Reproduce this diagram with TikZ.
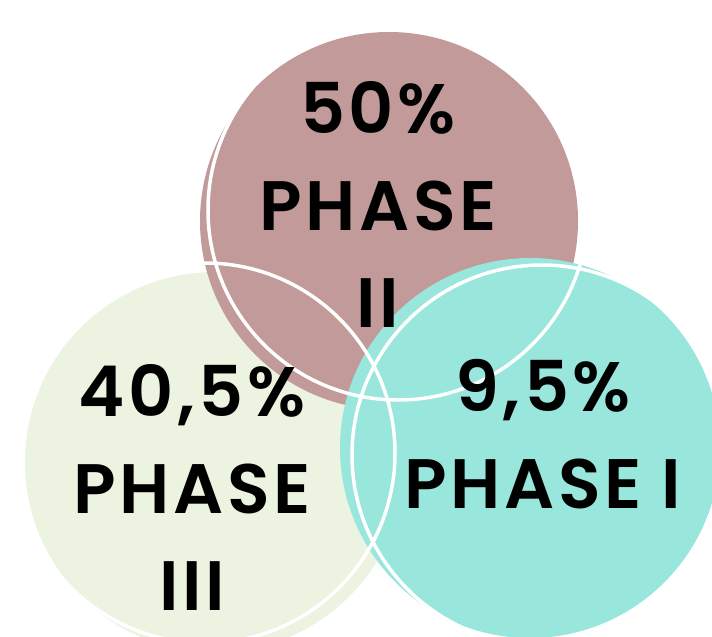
\documentclass[tikz,border=0pt]{standalone}
\usepackage{fontspec}
\setmainfont{Poppins}
\newfontfamily\phasefont{Poppins SemiBold}[LetterSpace=5]
\definecolor{phasepink}{RGB}{194,154,154}
\definecolor{phasegreen}{RGB}{236,243,224}
\definecolor{phaseteal}{RGB}{152,230,220}
\begin{document}
\begin{tikzpicture}
  [
    x=1pt, y=-1pt,
    ring/.style={draw=white, line width=3.5pt},
    share/.style={align=center, anchor=base, inner sep=0pt,
      font=\fontsize{70}{97}\selectfont\phasefont}
  ]
  \useasboundingbox (0,0) rectangle (712,637);
  \clip (0,0) rectangle (712,637);
  % filled disks
  \fill[phasegreen] (215,462) circle (190);
  \fill[phasepink] (389,221) circle (189);
  \fill[phaseteal] (530,448) circle (190);
  % white rings on top
  \draw[ring] (205,453) circle (190);
  \draw[ring] (398,210) circle (190);
  \draw[ring] (542,455) circle (190);
  % labels (anchored at the last line)
  \node[share] (phase2) at (378,327) {50\%\\PHASE\\II};
  \node[share] (phase3) at (192,610) {40,5\%\\PHASE\\III};
  \node[share] (phase1) at (543,508) {9,5\%\\PHASE I};
\end{tikzpicture}
\end{document}
